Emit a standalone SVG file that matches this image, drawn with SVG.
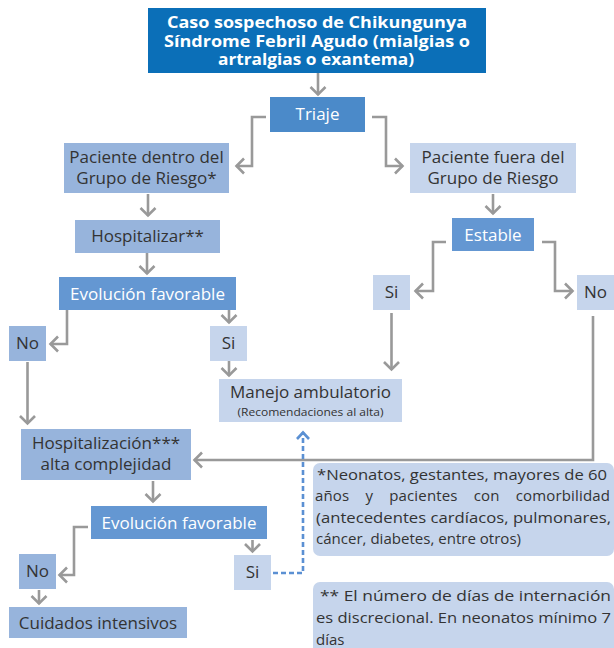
<svg xmlns="http://www.w3.org/2000/svg" width="614" height="648" viewBox="0 0 614 648">
<style>
.t{font-family:"Open Sans","Liberation Sans",sans-serif;font-size:17px;text-anchor:middle}
.w{fill:#ffffff}
.d{fill:#333333}
.b{font-weight:bold;font-size:15.5px}
.s{font-size:11.5px}
.n{font-family:"Open Sans","Liberation Sans",sans-serif;font-size:15px;fill:#333333}
.c0{fill:#0B6FB8}
.c1{fill:#4B8AC9}
.c2{fill:#6497D2}
.c3{fill:#97B4DC}
.c4{fill:#C6D5EC}
.ln{fill:none;stroke:#999999;stroke-width:2.6;marker-end:url(#ah)}
.dl{fill:none;stroke:#5B90D3;stroke-width:2.6;stroke-dasharray:5 3;marker-end:url(#ahb)}
</style>
<defs>
<marker id="ah" markerUnits="userSpaceOnUse" viewBox="-12 -10 14 20" refX="0" refY="0" markerWidth="14" markerHeight="20" orient="auto">
<path d="M-8,-7.5 L-0.5,0 L-8,7.5" fill="none" stroke="#999999" stroke-width="2.6"/>
</marker>
<marker id="ahb" markerUnits="userSpaceOnUse" viewBox="-12 -10 14 20" refX="0" refY="0" markerWidth="14" markerHeight="20" orient="auto">
<path d="M-7,-6 L-0.5,0 L-7,6" fill="none" stroke="#5B90D3" stroke-width="2.6"/>
</marker>
</defs>
<rect width="614" height="648" fill="#ffffff"/>
<g id="connectors">
<path class="ln" d="M318,73 V95"/>
<path class="ln" d="M266,117 H252 V166 H236"/>
<path class="ln" d="M372,117 H386 V166 H403"/>
<path class="ln" d="M148,194 V216"/>
<path class="ln" d="M493,194 V214"/>
<path class="ln" d="M147,253 V274"/>
<path class="ln" d="M67,310 V344 H50"/>
<path class="ln" d="M229,310 V323"/>
<path class="ln" d="M229,361 V376"/>
<path class="ln" d="M446,242 H433 V291 H415"/>
<path class="ln" d="M542,242 H555 V291 H573"/>
<path class="ln" d="M391.5,313 V370"/>
<path class="ln" d="M593,316 V460 H194"/>
<path class="ln" d="M27.5,362 V424"/>
<path class="ln" d="M153,481 V502"/>
<path class="ln" d="M88,527 H74 V575 H59"/>
<path class="ln" d="M252.5,540 V552"/>
<path class="ln" d="M39,590 V604"/>
<path class="dl" d="M273,573 H303 V432"/>
</g>
<g id="caso">
<rect class="c0" x="148" y="8" width="338" height="65"/>
<text class="t w b" x="317" y="28" textLength="300" lengthAdjust="spacingAndGlyphs">Caso sospechoso de Chikungunya</text>
<text class="t w b" x="317" y="46.5" textLength="306" lengthAdjust="spacingAndGlyphs">Síndrome Febril Agudo (mialgias o</text>
<text class="t w b" x="316" y="65" textLength="196" lengthAdjust="spacingAndGlyphs">artralgias o exantema)</text>
</g>
<g id="triaje">
<rect class="c1" x="270" y="97" width="95" height="35"/>
<text class="t w" x="317.5" y="120">Triaje</text>
</g>
<g id="dentro">
<rect class="c3" x="64" y="143" width="165" height="50"/>
<text class="t d" x="146.5" y="163">Paciente dentro del</text>
<text class="t d" x="146.5" y="183.5">Grupo de Riesgo*</text>
</g>
<g id="fuera">
<rect class="c4" x="410" y="143" width="166" height="50"/>
<text class="t d" x="493" y="163">Paciente fuera del</text>
<text class="t d" x="493" y="183.5">Grupo de Riesgo</text>
</g>
<g id="hospitalizar">
<rect class="c3" x="75" y="220" width="145" height="33"/>
<text class="t d" x="147.5" y="242">Hospitalizar**</text>
</g>
<g id="evolucion1">
<rect class="c2" x="59" y="277" width="177" height="33"/>
<text class="t w" x="147.5" y="299.5">Evolución favorable</text>
</g>
<g id="no1">
<rect class="c3" x="9" y="326" width="37" height="35"/>
<text class="t d" x="27.5" y="349">No</text>
</g>
<g id="si1">
<rect class="c4" x="210" y="326" width="37" height="35"/>
<text class="t d" x="228.5" y="349">Si</text>
</g>
<g id="manejo">
<rect class="c4" x="219" y="379" width="183" height="43"/>
<text class="t d" x="310.5" y="398">Manejo ambulatorio</text>
<text class="t d s" x="310.5" y="416" textLength="146" lengthAdjust="spacingAndGlyphs">(Recomendaciones al alta)</text>
</g>
<g id="estable">
<rect class="c2" x="452" y="218" width="82" height="33"/>
<text class="t w" x="493" y="240.5">Estable</text>
</g>
<g id="si2">
<rect class="c4" x="373" y="275" width="37" height="35"/>
<text class="t d" x="391.5" y="298">Si</text>
</g>
<g id="no2">
<rect class="c4" x="577" y="275" width="37" height="35"/>
<text class="t d" x="595.5" y="298">No</text>
</g>
<g id="hospitalizacion">
<rect class="c3" x="21" y="429" width="170" height="51"/>
<text class="t d" x="106" y="449">Hospitalización***</text>
<text class="t d" x="106" y="469.5">alta complejidad</text>
</g>
<g id="evolucion2">
<rect class="c2" x="91" y="506" width="176" height="33"/>
<text class="t w" x="179" y="528.5">Evolución favorable</text>
</g>
<g id="no3">
<rect class="c3" x="19" y="554" width="37" height="35"/>
<text class="t d" x="37.5" y="577">No</text>
</g>
<g id="si3">
<rect class="c4" x="234" y="555" width="37" height="35"/>
<text class="t d" x="252.5" y="578">Si</text>
</g>
<g id="cuidados">
<rect class="c3" x="9" y="607" width="178" height="31"/>
<text class="t d" x="98" y="628.5">Cuidados intensivos</text>
</g>
<g id="nota1">
<rect class="c4" x="313" y="463" width="301" height="93" rx="7"/>
<text class="n" x="317" y="480" textLength="290" lengthAdjust="spacingAndGlyphs">*Neonatos, gestantes, mayores de 60</text>
<text class="n" x="315" y="501" textLength="295" lengthAdjust="spacing" word-spacing="12">años y pacientes con comorbilidad</text>
<text class="n" x="316" y="523" textLength="295" lengthAdjust="spacingAndGlyphs">(antecedentes cardíacos, pulmonares,</text>
<text class="n" x="316" y="544" textLength="205" lengthAdjust="spacingAndGlyphs">cáncer, diabetes, entre otros)</text>
</g>
<g id="nota2">
<rect class="c4" x="313" y="582" width="301" height="72" rx="7"/>
<text class="n" x="320" y="601" textLength="291" lengthAdjust="spacingAndGlyphs">** El número de días de internación</text>
<text class="n" x="316" y="623" textLength="295" lengthAdjust="spacingAndGlyphs">es discrecional. En neonatos mínimo 7</text>
<text class="n" x="316" y="645">días</text>
</g>
</svg>
